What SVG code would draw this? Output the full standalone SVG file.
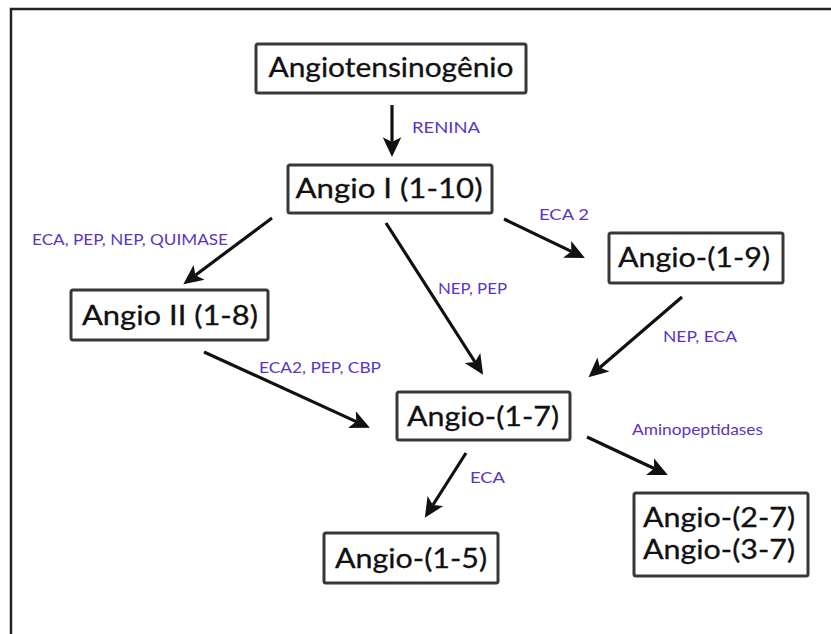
<svg xmlns="http://www.w3.org/2000/svg" width="831" height="634" viewBox="0 0 831 634">
<style>
.box{fill:#fff;stroke:#383838;stroke-width:3;}
.nt{font-family:Lato,"Open Sans","Liberation Sans",sans-serif;font-size:27px;fill:#111;text-anchor:middle;stroke:#111;stroke-width:0.3;}
.lb{font-family:Lato,"Open Sans","Liberation Sans",sans-serif;font-size:15px;fill:#5a34c8;}
.ar{stroke:#111;stroke-width:3.2;fill:none;marker-end:url(#ah);}
</style>
<defs>
<marker id="ah" markerUnits="userSpaceOnUse" markerWidth="22" markerHeight="22" refX="4" refY="0" viewBox="0 -9 19 18" orient="auto">
<path d="M0,-8 L17,0 L0,8 L4,0 z" fill="#111"/>
</marker>
</defs>
<rect width="831" height="634" fill="#fff"/>
<path d="M11,640 L11,9 L840,9" fill="none" stroke="#222" stroke-width="2.5"/>
<g id="connectors">
<line class="ar" x1="392" y1="105" x2="392" y2="142"/>
<line class="ar" x1="272" y1="218" x2="195.4" y2="275.2"/>
<line class="ar" x1="504" y1="219" x2="571.3" y2="251.4"/>
<line class="ar" x1="386" y1="223" x2="475" y2="362"/>
<line class="ar" x1="682" y1="297" x2="599.9" y2="367.5"/>
<line class="ar" x1="204" y1="352" x2="356.2" y2="421.6"/>
<line class="ar" x1="466" y1="453" x2="432.9" y2="505"/>
<line class="ar" x1="587" y1="437" x2="654.2" y2="468.5"/>
</g>
<g id="labels">
<text class="lb" x="412" y="133" textLength="68" lengthAdjust="spacingAndGlyphs">RENINA</text>
<text class="lb" x="32" y="245" textLength="196" lengthAdjust="spacingAndGlyphs">ECA, PEP, NEP, QUIMASE</text>
<text class="lb" x="539" y="220" textLength="50" lengthAdjust="spacingAndGlyphs">ECA 2</text>
<text class="lb" x="438" y="294" textLength="69" lengthAdjust="spacingAndGlyphs">NEP, PEP</text>
<text class="lb" x="663" y="342" textLength="74" lengthAdjust="spacingAndGlyphs">NEP, ECA</text>
<text class="lb" x="259" y="373" textLength="122" lengthAdjust="spacingAndGlyphs">ECA2, PEP, CBP</text>
<text class="lb" x="632" y="435" textLength="131" lengthAdjust="spacingAndGlyphs">Aminopeptidases</text>
<text class="lb" x="470" y="483" textLength="35" lengthAdjust="spacingAndGlyphs">ECA</text>
</g>
<g id="angiotensinogenio">
<rect class="box" x="256" y="44" width="270" height="49" rx="2"/>
<text class="nt" x="391" y="77" textLength="245" lengthAdjust="spacingAndGlyphs">Angiotensinogênio</text>
</g>
<g id="angio1">
<rect class="box" x="288" y="165" width="204" height="48" rx="2"/>
<text class="nt" x="389" y="198" textLength="187" lengthAdjust="spacingAndGlyphs">Angio I (1-10)</text>
</g>
<g id="angio2">
<rect class="box" x="71" y="290" width="197" height="50" rx="2"/>
<text class="nt" x="170" y="325" textLength="176" lengthAdjust="spacingAndGlyphs">Angio II (1-8)</text>
</g>
<g id="angio19">
<rect class="box" x="609" y="233" width="174" height="50" rx="2"/>
<text class="nt" x="694" y="267" textLength="152" lengthAdjust="spacingAndGlyphs">Angio-(1-9)</text>
</g>
<g id="angio17">
<rect class="box" x="397" y="392" width="173" height="48" rx="2"/>
<text class="nt" x="483" y="426" textLength="152" lengthAdjust="spacingAndGlyphs">Angio-(1-7)</text>
</g>
<g id="angio15">
<rect class="box" x="324" y="533" width="174" height="50" rx="2"/>
<text class="nt" x="411" y="568" textLength="152" lengthAdjust="spacingAndGlyphs">Angio-(1-5)</text>
</g>
<g id="angio27">
<rect class="box" x="634" y="493" width="174" height="83" rx="2"/>
<text class="nt" x="719" y="527" textLength="152" lengthAdjust="spacingAndGlyphs">Angio-(2-7)</text>
<text class="nt" x="719" y="559" textLength="152" lengthAdjust="spacingAndGlyphs">Angio-(3-7)</text>
</g>
</svg>
